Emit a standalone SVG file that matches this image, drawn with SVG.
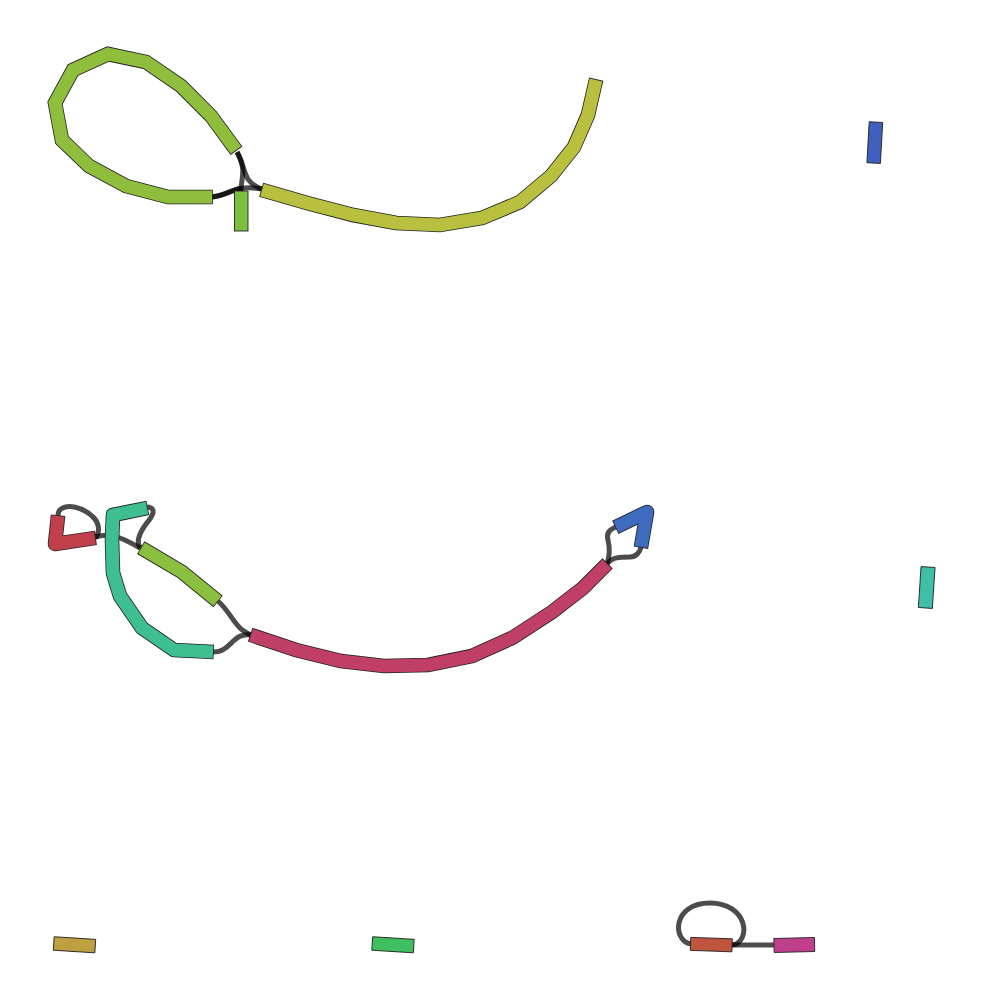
<svg xmlns="http://www.w3.org/2000/svg" width="982" height="1000" viewBox="0 0 982 1000">
<style>
.e{fill:none;stroke:#000;stroke-opacity:0.7;stroke-width:5;stroke-linecap:butt}
.o{fill:none;stroke:#222;stroke-width:14.6;stroke-linejoin:miter}
.i{fill:none;stroke-width:13;stroke-linejoin:miter}
.r .o,.r .i{stroke-linejoin:round}
.b{stroke:#222;stroke-width:0.9}
</style>
<rect width="982" height="1000" fill="#fff"/>
<g id="edges">
<path class="e" d="M237,152 C247,170 242,182 262,189"/>
<path class="e" d="M237,152 C247,170 241,178 241,191"/>
<path class="e" d="M212,197 C230,195 235,184 262,189"/>
<path class="e" d="M212,197 C230,195 241,184 241,191"/>
<path class="e" d="M95,538 C101,532 99,522 92,516 C82,507 68,504 61,509 C58,511 58,514 58,516"/>
<path class="e" d="M95,537 C108,533 118,535 140,548"/>
<path class="e" d="M147,507 C158,508 152,517 146,524 C138,535 136,544 141,548"/>
<path class="e" d="M218,601 C228,610 232,620 240,628 C243,631 247,633 251,635"/>
<path class="e" d="M213,652 C232,652 232,632 251,635"/>
<path class="e" d="M607,564 C610,555 610,548 608,540 C606,533 610,529 616,527"/>
<path class="e" d="M607,564 C612,557 620,557 630,557 C636,557 640,552 641,547"/>
<path class="e" d="M691,944 C672,941 672,903 710,903 C748,903 752,942 732,945"/>
<path class="e" d="M732,945 L774,945"/>
</g>
<g id="node1">
<path class="o" d="M236.5,150.7 L211,116 L181,86 L146,62 L108,54 L73,70 L55,103 L62,140 L89,166 L126,186 L168,197 L212.8,197"/>
<path class="i" stroke="#8fbe3c" d="M236,150 L211,116 L181,86 L146,62 L108,54 L73,70 L55,103 L62,140 L89,166 L126,186 L168,197 L212,197"/>
</g>
<g id="node2"><rect class="b" x="234.5" y="191" width="13.5" height="40" fill="#7cbf3f"/></g>
<g id="node3">
<path class="o" d="M261.2,189.8 L307,203 L353,215 L396,223 L440,225 L482,218 L520,202 L551,176 L574,147 L588,115 L596.2,79.2"/>
<path class="i" stroke="#b9bf3f" d="M262,190 L307,203 L353,215 L396,223 L440,225 L482,218 L520,202 L551,176 L574,147 L588,115 L596,80"/>
</g>
<g id="node4"><rect class="b" x="-6.75" y="-20.5" width="13.5" height="41" fill="#4060bf" transform="translate(874.8,142.6) rotate(3.2)"/></g>
<g id="node5" class="r">
<path class="o" d="M58.1,515.2 L55,544 L95.8,537.9"/>
<path class="i" stroke="#bf3f4a" d="M58,516 L55,544 L95,538"/>
</g>
<g id="node6" class="r">
<path class="o" d="M147.8,507.8 L113,515 L112,540 L113,573 L120,596 L142,628 L174,650 L213.8,652"/>
<path class="i" stroke="#3fbf91" d="M147,508 L113,515 L112,540 L113,573 L120,596 L142,628 L174,650 L213,652"/>
</g>
<g id="node7">
<path class="o" d="M140.8,547.6 L182,572 L218.1,601.5"/>
<path class="i" stroke="#8bbf3f" d="M141.5,548 L182,572 L217.5,601"/>
</g>
<g id="node8">
<path class="o" d="M250.2,634.7 L296,650 L341,661 L384,666 L428,665 L472,656 L512,638 L552,612 L583,588 L607.6,563.4"/>
<path class="i" stroke="#bf3f67" d="M251,635 L296,650 L341,661 L384,666 L428,665 L472,656 L512,638 L552,612 L583,588 L607,564"/>
</g>
<g id="node9" class="r">
<path class="o" d="M615.3,527.4 L647,512 L640.9,547.8"/>
<path class="i" stroke="#3f6bbf" d="M616,527 L647,512 L641,547"/>
</g>
<g id="node10"><rect class="b" x="-7" y="-20.5" width="14" height="41" fill="#3fbfa5" transform="translate(926.7,587.5) rotate(3.8)"/></g>
<g id="node11"><rect class="b" x="-20.8" y="-6.75" width="41.6" height="13.5" fill="#bf9f3f" transform="translate(74.5,944.8) rotate(3.6)"/></g>
<g id="node12"><rect class="b" x="-20.8" y="-6.75" width="41.6" height="13.5" fill="#3fbf60" transform="translate(393,944.8) rotate(3.6)"/></g>
<g id="node13"><rect class="b" x="-20.8" y="-6.5" width="41.6" height="13" fill="#bf543f" transform="translate(711.3,944.6) rotate(2)"/></g>
<g id="node14"><rect class="b" x="-20.3" y="-7" width="40.6" height="14" fill="#bf3f8c" transform="translate(794.3,945) rotate(-1.4)"/></g>
</svg>
